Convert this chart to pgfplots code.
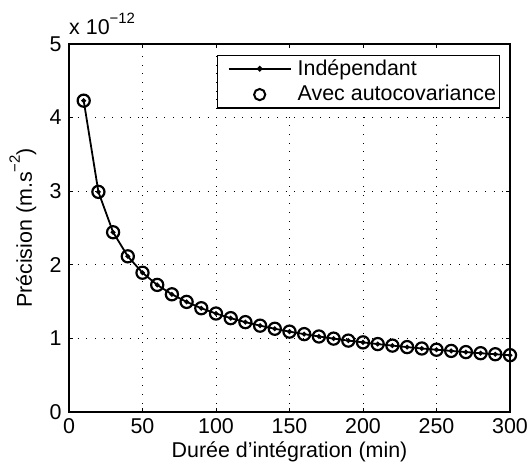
\documentclass[border=0pt]{standalone}
\usepackage{pgfplots}
\pgfplotsset{compat=1.18}
\usepackage{fontspec}
\setmainfont{Liberation Sans}
\newcommand{\supx}[1]{\raisebox{1.05ex}{\fontsize{15}{15}\selectfont #1}}
\begin{document}
\fontsize{21.5}{24}\selectfont
\begin{tikzpicture}
\begin{axis}[
  name=ax,
  scale only axis,
  width=441bp, height=368bp,
  xmin=0, xmax=300, ymin=0, ymax=5,
  xtick={0,50,...,300}, ytick={0,1,...,5},
  /pgf/number format/assume math mode=true,
  tick label style={font=\fontsize{21.5}{24}\selectfont},
  label style={font=\fontsize{21.5}{24}\selectfont},
  xticklabel style={yshift=1pt},
  yticklabel style={xshift=0pt},
  xlabel={Durée d’intégration (min)},
  ylabel={Précision (m.s\supx{−2})},
  xlabel style={yshift=6pt},
  ylabel style={yshift=-1pt},
  tick align=inside, tick pos=both,
  major tick length=4.5bp,
  grid=major,
  major grid style={black, line width=0.8pt, dash pattern=on 0.8pt off 7.9pt},
  axis line style={line width=1.2pt},
  every tick/.style={black, line width=0.8pt},
  legend style={at={(0.9767,0.971)}, anchor=north east, draw=black, line width=1.2pt,
    font=\fontsize{21.5}{24}\selectfont, row sep=3pt, inner xsep=1pt, inner ysep=2pt},
  legend cell align=left,
  clip=false,
]
\addplot[black, line width=1.8pt, mark=*, mark size=1.4pt,
  legend image code/.code={\path[draw=none,fill=none] (-10bp,0bp)--(67bp,0bp); \draw[black,line width=1.8pt] (0bp,0bp)--(62bp,0bp); \fill[black] (31bp,0bp) circle (1.8bp);}] coordinates {
(10,4.230)(20,2.991)(30,2.442)(40,2.115)(50,1.892)(60,1.727)(70,1.599)(80,1.496)(90,1.410)(100,1.338)
(110,1.275)(120,1.221)(130,1.173)(140,1.131)(150,1.092)(160,1.058)(170,1.026)(180,0.997)(190,0.970)(200,0.946)
(210,0.923)(220,0.902)(230,0.882)(240,0.863)(250,0.846)(260,0.830)(270,0.814)(280,0.799)(290,0.785)(300,0.772)
};
\addlegendentry{Indépendant}
\addplot[only marks, black, line width=2.2pt, mark=o, mark size=6.1pt,
  legend image code/.code={\path[draw=none,fill=none] (-10bp,0bp)--(67bp,0bp); \draw[black,line width=2pt] (31bp,0bp) circle (5.6bp);}] coordinates {
(10,4.230)(20,2.991)(30,2.442)(40,2.115)(50,1.892)(60,1.727)(70,1.599)(80,1.496)(90,1.410)(100,1.338)
(110,1.275)(120,1.221)(130,1.173)(140,1.131)(150,1.092)(160,1.058)(170,1.026)(180,0.997)(190,0.970)(200,0.946)
(210,0.923)(220,0.902)(230,0.882)(240,0.863)(250,0.846)(260,0.830)(270,0.814)(280,0.799)(290,0.785)(300,0.772)
};
\addlegendentry{Avec autocovariance}
\node[anchor=base west, inner sep=0pt, font=\fontsize{21.5}{24}\selectfont] at ([xshift=0bp,yshift=9bp]rel axis cs:0,1) {x 10\supx{−12}};
\end{axis}
\pgfresetboundingbox
\path ([shift={(-69bp,-59bp)}]ax.south west) rectangle ([shift={(17bp,44bp)}]ax.north east);
\end{tikzpicture}
\end{document}
